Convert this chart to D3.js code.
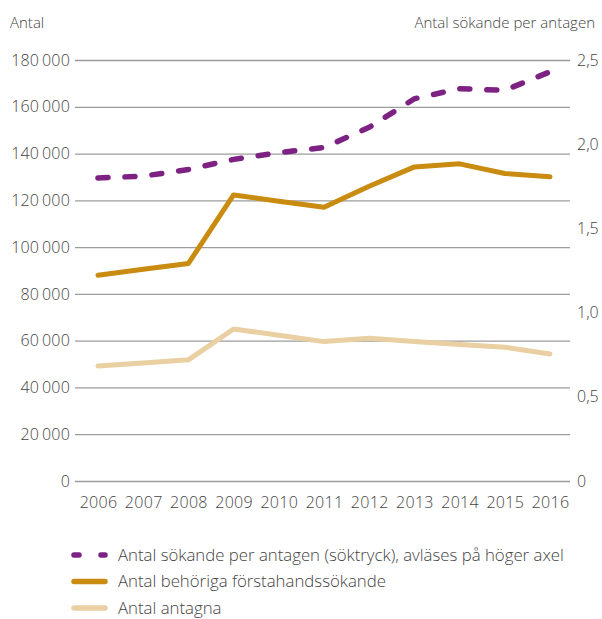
<!DOCTYPE html>
<html>
<head>
<meta charset="utf-8">
<script src="https://cdn.jsdelivr.net/npm/d3@7"></script>
<style>
  body { margin: 0; background: #fff; }
  svg text { font-family: "Open Sans", Lato, sans-serif; font-weight: 300; fill: #444; }
</style>
</head>
<body>
<div id="chart"></div>
<script>
var svgWidth = 602;
var svgHeight = 619;

// Data
var years = [2006, 2007, 2008, 2009, 2010, 2011, 2012, 2013, 2014, 2015, 2016];
var behoriga = [88000, 90500, 93000, 122300, 119600, 117000, 126000, 134300, 135600, 131500, 130100];
var antagna = [49200, 50500, 51800, 65000, 62300, 59600, 61000, 59600, 58400, 57200, 54300];
var soktryck = [1.80, 1.81, 1.85, 1.91, 1.95, 1.98, 2.10, 2.27, 2.33, 2.32, 2.43];
var leftTicks = [0, 20000, 40000, 60000, 80000, 100000, 120000, 140000, 160000, 180000];
var rightTicks = [0, 0.5, 1.0, 1.5, 2.0, 2.5];
var legendLabels = [
  "Antal sökande per antagen (söktryck), avläses på höger axel",
  "Antal behöriga förstahandssökande",
  "Antal antagna"
];

var purple = "#7d2283";
var gold = "#c98b10";
var pale = "#e9cfa1";

var svg = d3.select("#chart")
  .append("svg")
  .attr("width", svgWidth)
  .attr("height", svgHeight);

var x = d3.scaleLinear()
  .domain([2006, 2016])
  .range([98, 550]);

var yLeft = d3.scaleLinear()
  .domain([0, 180000])
  .range([481, 60]);

var yRight = d3.scaleLinear()
  .domain([0, 2.5])
  .range([481, 60]);

var fmtLeft = function(d) {
  return d3.format(",")(d).replace(/,/g, "\u2009");
};
var fmtRight = function(d) {
  return d === 0 ? "0" : d3.format(".1f")(d).replace(".", ",");
};

// gridlines + left axis
var leftAxis = d3.axisLeft(yLeft)
  .tickValues(leftTicks)
  .tickSize(-495)
  .tickPadding(6)
  .tickFormat(fmtLeft);

var gl = svg.append("g")
  .attr("transform", "translate(75,0)")
  .call(leftAxis);
gl.select(".domain").remove();
gl.selectAll(".tick line").attr("stroke", "#9c9c9c").attr("stroke-width", 1.3);
gl.selectAll(".tick text")
  .style("font-size", "16px")
  .style("letter-spacing", "0.2px")
  .attr("x", -5);

// right axis (labels only)
var rightAxis = d3.axisRight(yRight)
  .tickValues(rightTicks)
  .tickSize(0)
  .tickPadding(0)
  .tickFormat(fmtRight);

var gr = svg.append("g")
  .attr("transform", "translate(577,0)")
  .call(rightAxis);
gr.select(".domain").remove();
gr.selectAll(".tick text").style("font-size", "16px");

// x axis
var xAxis = d3.axisBottom(x)
  .tickValues(years)
  .tickSize(0)
  .tickPadding(16)
  .tickFormat(d3.format("d"));

var gx = svg.append("g")
  .attr("transform", "translate(0,481)")
  .call(xAxis);
gx.select(".domain").remove();
gx.selectAll(".tick text")
  .style("font-size", "16px")
  .style("letter-spacing", "0.3px");

// axis titles
svg.append("text")
  .attr("x", 10)
  .attr("y", 28)
  .style("font-size", "15px")
  .text("Antal");

svg.append("text")
  .attr("x", 595)
  .attr("y", 28)
  .attr("text-anchor", "end")
  .style("font-size", "15px")
  .text("Antal sökande per antagen");

// lines
var lineLeft = d3.line()
  .x(function(d, i) { return x(years[i]); })
  .y(function(d) { return yLeft(d); });

var lineRight = d3.line()
  .x(function(d, i) { return x(years[i]); })
  .y(function(d) { return yRight(d); });

svg.append("path")
  .datum(antagna)
  .attr("d", lineLeft)
  .attr("fill", "none")
  .attr("stroke", pale)
  .attr("stroke-width", 5)
  .attr("stroke-linecap", "round")
  .attr("stroke-linejoin", "round");

svg.append("path")
  .datum(behoriga)
  .attr("d", lineLeft)
  .attr("fill", "none")
  .attr("stroke", gold)
  .attr("stroke-width", 5)
  .attr("stroke-linecap", "round")
  .attr("stroke-linejoin", "round");

svg.append("path")
  .datum(soktryck)
  .attr("d", lineRight)
  .attr("fill", "none")
  .attr("stroke", purple)
  .attr("stroke-width", 5.5)
  .attr("stroke-dasharray", "10 17")
  .attr("stroke-linecap", "round");

// legend
var legend = svg.append("g");
var legendStyles = [
  { color: purple, dash: "5 22" },
  { color: gold, dash: null },
  { color: pale, dash: null }
];

legendLabels.forEach(function(label, i) {
  var ly = 555 + i * 26.5;
  legend.append("line")
    .attr("x1", 74)
    .attr("x2", 105)
    .attr("y1", ly)
    .attr("y2", ly)
    .attr("stroke", legendStyles[i].color)
    .attr("stroke-width", 5.5)
    .attr("stroke-linecap", "round")
    .attr("stroke-dasharray", legendStyles[i].dash);
  legend.append("text")
    .attr("x", 118)
    .attr("y", ly)
    .attr("dy", "0.35em")
    .style("font-size", "16.8px")
    .text(label);
});
</script>
</body>
</html>
